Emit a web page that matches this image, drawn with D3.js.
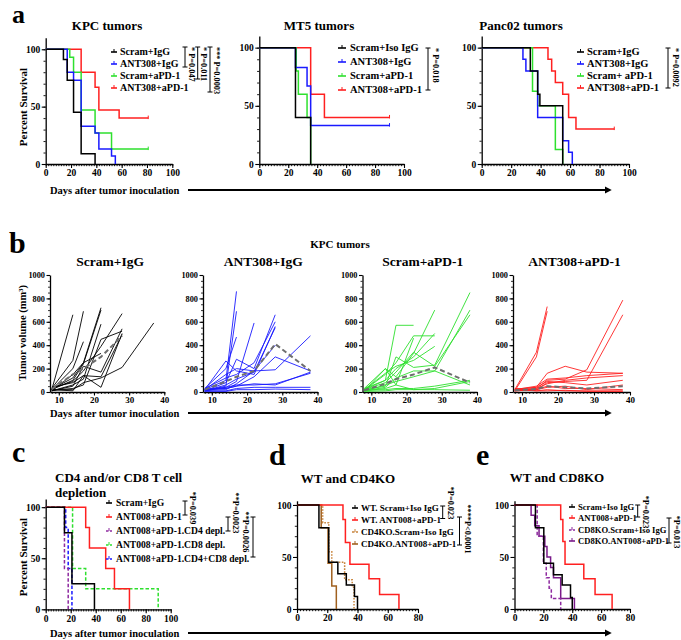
<!DOCTYPE html>
<html><head><meta charset="utf-8">
<script src="https://cdn.jsdelivr.net/npm/d3@7"></script>
<style>body{margin:0;background:#fff}svg{display:block}</style>
</head><body><script>
// ===== DATA =====
const kpcLabels = ["Scram+IgG","ANT308+IgG","Scram+aPD-1","ANT308+aPD-1"];
const kpcScramIgG = [[14,91],[17,73],[22,45],[28,9],[39,0]];
const kpcAntIgG = [[17,80],[22,73],[28,33],[39,27],[42,13],[52,7],[55,0]];
const kpcScramPD1 = [[19,93],[22,80],[28,47],[39,27],[52,13]];
const kpcAntPD1 = [[28,80],[39,67],[42,47],[58,40]];
const kpcEnd = 81;

const mt5Labels = ["Scram+Iso IgG","ANT308+IgG","Scram+aPD-1","ANT308+aPD-1"];
const mt5ScramIgG = [[25,40],[35.5,0]];
const mt5AntIgG = [[25,83],[33,67],[35.5,33]];
const mt5ScramPD1 = [[25.5,80],[27,60],[33,40],[35.5,0]];
const mt5AntPD1 = [[35.5,60],[45,40]];
const mt5End = 90;

const pancLabels = ["Scram+IgG","ANT308+IgG","Scram+ aPD-1","ANT308+aPD-1"];
const pancScramIgG = [[33,80],[38,60],[39.5,50],[55,0]];
const pancAntIgG = [[28,90],[30,80],[38,40],[55,20],[59,10],[61.5,0]];
const pancScramPD1 = [[34.5,62.5],[38,50],[50,12.5],[55,0]];
const pancAntPD1 = [[45,90],[47.5,80],[50,70],[55,60],[59,40],[64,30]];
const pancEnd = 90;

const volDaysScram = [8,14,17,22,28,37];
const volDays = [8,14,17,22,28,38];
const volScramIgG = [
  [20,660,null,null,null,null],[30,270,690,null,null,null],[20,200,430,null,null,null],
  [10,150,250,720,null,null],[20,100,240,700,null,null],[10,60,110,580,null,null],
  [30,90,180,390,670,null],[10,50,220,170,540,null],[40,80,140,130,490,null],
  [20,10,140,40,500,null],[20,20,80,120,210,590],[15,30,60,450,520,null],[25,120,250,330,null,null]];
const meanScramIgG = [25,150,200,300,480,null];
const volAntIgG = [
  [20,100,860,null,null,null],[10,50,690,null,null,null],[30,200,470,null,null,null],
  [20,265,180,150,560,null],[10,80,280,200,660,null],[30,120,150,250,600,null],
  [10,60,110,170,550,null],[20,40,90,590,null,null],[15,20,70,180,190,480],
  [25,30,50,130,300,180],[10,40,60,60,70,160],[20,30,50,70,60,170],
  [5,10,30,40,40,40],[10,5,20,20,25,20],[20,150,200,180,400,null]];
const meanAntIgG = [20,90,130,180,410,180];
const volScramPD1 = [
  [20,100,570,570,null,null],[10,200,130,330,700,null],[15,150,250,480,480,null],
  [30,100,200,300,500,null],[20,50,300,210,230,850],[10,40,120,180,180,700],
  [20,80,170,340,220,660],[10,30,60,20,30,90],[5,10,20,20,20,15],
  [30,200,60,460,null,null],[10,60,90,130,180,60],[20,160,220,270,390,null],[15,20,30,30,50,100]];
const meanScramPD1 = [15,70,110,150,210,80];
const volAntPD1 = [
  [20,340,730,null,null,null],[10,300,690,null,null,null],[15,30,100,110,190,785],
  [10,20,80,90,100,660],[20,40,160,220,170,160],[20,50,110,120,140,160],
  [10,30,70,100,120,140],[25,40,90,80,60,100],[10,20,40,50,20,60],
  [30,10,20,10,10,10],[15,20,50,30,30,20],[20,10,10,15,5,5]];
const meanAntPD1 = [15,25,50,40,30,50];
const volTitles = ["Scram+IgG","ANT308+IgG","Scram+aPD-1","ANT308+aPD-1"];

const cLabels = ["Scram+IgG","ANT008+aPD-1","ANT008+aPD-1.CD4 depl.","ANT008+aPD-1.CD8 depl.","ANT008+aPD-1.CD4+CD8 depl."];
const cScramIgG = [[15,75],[21,25],[39,0]];
const cAntPD1 = [[32,80],[35,60],[48,40],[55,20],[67,0]];
const cCD4 = [[15,40],[18,0]];
const cCD8 = [[21.5,40],[32,20],[90,0]];
const cCD4CD8 = [[16,80],[18,40],[21,0]];

const dLabels = ["WT. Scram+Iso IgG","WT. ANT008+aPD-1","CD4KO.Scram+Iso IgG","CD4KO.ANT008+aPD-1"];
const dWTScram = [[14.5,78],[21,45],[27,34],[32.6,23],[38,12],[40,0]];
const dWTAnt = [[30.4,86],[32,64],[35,43],[47.6,29],[54.6,14],[67.4,0]];
const dKOScram = [[17,83],[21,55],[23,45],[31.5,28],[36.5,21],[37.7,0]];
const dKOAnt = [[16,78],[20.5,44],[23,22],[26,0]];

const eLabels = ["Scram+Iso IgG","ANT008+aPD-1","CD8KO.Scram+Iso IgG","CD8KO.ANT008+aPD-1"];
const eScram = [[14.5,78],[20.3,44],[27,33],[33,23],[38.8,11],[40,0]];
const eAnt = [[32,86],[33.5,65],[35,43],[48,29],[55.8,14],[67.6,0]];
const eKOScram = [[15.7,70],[20,44],[22,30],[24,20],[25.5,10],[32,0]];
const eKOAnt = [[11.5,90],[14,80],[17,70],[21,60],[22.5,50],[25,40],[27,30],[32,10],[41.5,0]];

// ===== DRAWING =====
const F = "'Liberation Serif', 'Times New Roman', Times, 'DejaVu Serif', serif";
const BLK="#000", BLU="#1a1aff", GRN="#2ee02e", RED="#ff2020", PUR="#8e2aa0", PUR2="#7a1a8a", BRN="#a0601f", BRN2="#c8843c";
const svg = d3.select("body").append("svg").attr("width",681).attr("height",640)
  .attr("font-family",F).attr("font-weight","bold");

svg.append("defs").append("marker").attr("id","ah").attr("viewBox","0 0 10 10")
  .attr("refX",2).attr("refY",5).attr("markerWidth",3.6).attr("markerHeight",3.6)
  .attr("orient","auto").append("path").attr("d","M0,0L10,5L0,10z").attr("fill","#000");

function txt(x,y,s,size,anchor,rot){
  const t=svg.append("text").attr("x",x).attr("y",y).attr("font-size",size)
    .style("font-family",F).style("font-weight","bold").attr("fill","#000").text(s);
  if(anchor) t.attr("text-anchor",anchor);
  if(rot!=null) t.attr("transform",`rotate(${rot},${x},${y})`);
  return t;
}
function styleAx(g,fs){
  g.attr("font-size",fs);
  g.attr("font-family",null);
  g.selectAll("text").style("font-family",F).style("font-weight","bold").style("font-size",fs+"px");
  g.select(".domain").attr("stroke","#000").attr("stroke-width",1.3);
  g.selectAll(".tick line").attr("stroke","#000").attr("stroke-width",1.1);
  g.selectAll(".tick text").attr("fill","#000");
}

function kmPanel(cfg){
  const x=d3.scaleLinear().domain([0,cfg.xMax]).range([cfg.left,cfg.right]);
  const y=d3.scaleLinear().domain([0,cfg.yTop]).range([cfg.bottom,cfg.top]);
  const mx=svg.append("g").attr("transform",`translate(0,${cfg.bottom})`)
    .call(d3.axisBottom(x).tickValues(d3.range(0,cfg.xMax+0.01,cfg.xMinor)).tickSize(2.2).tickFormat("").tickSizeOuter(0));
  mx.select(".domain").remove(); mx.selectAll(".tick line").attr("stroke","#000").attr("stroke-width",0.9);
  const my=svg.append("g").attr("transform",`translate(${cfg.left},0)`)
    .call(d3.axisLeft(y).tickValues(d3.range(0,101,10)).tickSize(2.2).tickFormat("").tickSizeOuter(0));
  my.select(".domain").remove(); my.selectAll(".tick line").attr("stroke","#000").attr("stroke-width",0.9);
  const gx=svg.append("g").attr("transform",`translate(0,${cfg.bottom})`)
    .call(d3.axisBottom(x).tickValues(d3.range(0,cfg.xMax+0.01,cfg.xMajor)).tickSize(4).tickPadding(1.5).tickSizeOuter(0));
  styleAx(gx,cfg.tickFs||9.5);
  const gy=svg.append("g").attr("transform",`translate(${cfg.left},0)`)
    .call(d3.axisLeft(y).tickValues([0,50,100]).tickSize(4).tickPadding(1.5).tickSizeOuter(0));
  styleAx(gy,cfg.tickFs||9.5);
  const line=d3.line().x(d=>x(d[0])).y(d=>y(d[1]));
  cfg.series.slice().reverse().forEach(s=>{
    const pts=[[0,100]]; let cur=100;
    s.steps.forEach(([t,v])=>{pts.push([t,cur]);pts.push([t,v]);cur=v;});
    if(cur>0 && s.end!=null) pts.push([s.end,cur]);
    svg.append("path").attr("d",line(pts)).attr("fill","none").attr("stroke",s.color)
      .attr("stroke-width",s.w||1.5).attr("stroke-dasharray",s.dash||null);
    if(cur>0 && s.end!=null){
      svg.append("line").attr("x1",x(s.end)).attr("x2",x(s.end)).attr("y1",y(cur)-2.5).attr("y2",y(cur)+1)
        .attr("stroke",s.color).attr("stroke-width",1);
    }
  });
  const L=cfg.legend;
  cfg.series.forEach((s,i)=>{
    const ry=L.rows[i];
    svg.append("line").attr("x1",L.x).attr("x2",L.x+L.w).attr("y1",ry).attr("y2",ry)
      .attr("stroke",s.color).attr("stroke-width",1.6).attr("stroke-dasharray",s.dash?"2.5,1.5":null);
    svg.append("line").attr("x1",L.x+L.w/2).attr("x2",L.x+L.w/2).attr("y1",ry-3).attr("y2",ry)
      .attr("stroke",s.color).attr("stroke-width",1);
    txt(L.tx,ry+3.4,s.label,L.fs);
  });
  if(cfg.title) txt(cfg.title.x,cfg.title.y,cfg.title.s,13,cfg.title.anchor||"middle");
  return {x,y};
}

function bracket(bx,y1,y2,label,tx,ty,anchor){
  svg.append("line").attr("x1",bx).attr("x2",bx).attr("y1",y1).attr("y2",y2).attr("stroke","#000").attr("stroke-width",1);
  [y1,y2].forEach(yy=>svg.append("line").attr("x1",bx-2.5).attr("x2",bx+2.5).attr("y1",yy).attr("y2",yy).attr("stroke","#000").attr("stroke-width",1));
  txt(tx,ty,label,8.3,anchor||"start",90);
}

function arrowRow(y){
  txt(50,y+3.8,"Days after tumor inoculation",10.5);
  svg.append("line").attr("x1",188).attr("x2",606).attr("y1",y).attr("y2",y)
    .attr("stroke","#000").attr("stroke-width",2).attr("marker-end","url(#ah)");
}

// ---------- Row a ----------
txt(12,23,"a",26);
kmPanel({left:45.7,right:172.3,top:37.8,bottom:164,xMax:100,yTop:110,xMajor:20,xMinor:2,
  series:[{label:kpcLabels[0],color:BLK,steps:kpcScramIgG},{label:kpcLabels[1],color:BLU,steps:kpcAntIgG},
          {label:kpcLabels[2],color:GRN,steps:kpcScramPD1,end:kpcEnd},{label:kpcLabels[3],color:RED,steps:kpcAntPD1,end:kpcEnd}],
  legend:{x:111,w:6,tx:120,rows:[52,64,76,88],fs:10},
  title:{x:107,y:30,s:"KPC tumors"}});
bracket(185,47,67,"* P=0.047",188.5,47);
bracket(197.7,47,79,"* P=0.011",201,47);
bracket(210,47,92,"*** P=0.0003",213.5,47);
txt(27,107,"Percent Survival",11,"middle",-90);

kmPanel({left:259.3,right:404,top:36,bottom:164,xMax:100,yTop:110,xMajor:20,xMinor:2,
  series:[{label:mt5Labels[0],color:BLK,steps:mt5ScramIgG},{label:mt5Labels[1],color:BLU,steps:mt5AntIgG,end:mt5End},
          {label:mt5Labels[2],color:GRN,steps:mt5ScramPD1},{label:mt5Labels[3],color:RED,steps:mt5AntPD1,end:mt5End}],
  legend:{x:338,w:8,tx:350,rows:[48,62,76,90],fs:10.5},
  title:{x:319,y:30,s:"MT5 tumors"}});
bracket(428,48,90,"* P=0.018",433,48);

kmPanel({left:481.7,right:629,top:36,bottom:164,xMax:100,yTop:110,xMajor:20,xMinor:2,
  series:[{label:pancLabels[0],color:BLK,steps:pancScramIgG},{label:pancLabels[1],color:BLU,steps:pancAntIgG},
          {label:pancLabels[2],color:GRN,steps:pancScramPD1},{label:pancLabels[3],color:RED,steps:pancAntPD1,end:pancEnd}],
  legend:{x:577,w:7,tx:587,rows:[52,64,76,88],fs:10.5},
  title:{x:521,y:30,s:"Panc02 tumors"}});
bracket(668,48,88,"* P=0.0092",672.5,48);
arrowRow(190);

// ---------- Row b ----------
txt(9,253,"b",30);
txt(340,248,"KPC tumors",11,"middle");
function volPanel(cfg){
  const x=d3.scaleLinear().domain([7.5,40]).range([cfg.left,cfg.right]);
  const y=d3.scaleLinear().domain([0,1000]).range([392,275]);
  const mx=svg.append("g").attr("transform","translate(0,392)")
    .call(d3.axisBottom(x).tickValues(d3.range(8,40.1,1)).tickSize(2).tickFormat("").tickSizeOuter(0));
  mx.select(".domain").remove(); mx.selectAll(".tick line").attr("stroke","#000").attr("stroke-width",0.8);
  const my=svg.append("g").attr("transform",`translate(${cfg.left},0)`)
    .call(d3.axisLeft(y).tickValues(d3.range(0,1001,50)).tickSize(2).tickFormat("").tickSizeOuter(0));
  my.select(".domain").remove(); my.selectAll(".tick line").attr("stroke","#000").attr("stroke-width",0.8);
  const gx=svg.append("g").attr("transform","translate(0,392)")
    .call(d3.axisBottom(x).tickValues([10,20,30,40]).tickSize(3.5).tickPadding(1.5).tickSizeOuter(0));
  styleAx(gx,9);
  const gy=svg.append("g").attr("transform",`translate(${cfg.left},0)`)
    .call(d3.axisLeft(y).tickValues(d3.range(0,1001,200)).tickFormat(d3.format("d")).tickSize(3.5).tickPadding(1.5).tickSizeOuter(0));
  styleAx(gy,8.3);
  const line=d3.line().defined(d=>d[1]!=null).x(d=>x(d[0])).y(d=>y(d[1]));
  cfg.mice.forEach(m=>{
    svg.append("path").attr("d",line(cfg.days.map((d,i)=>[d,m[i]]))).attr("fill","none")
      .attr("stroke",cfg.color).attr("stroke-width",0.9);
  });
  svg.append("path").attr("d",line(cfg.days.map((d,i)=>[d,cfg.mean[i]]))).attr("fill","none")
    .attr("stroke","#6e6e6e").attr("stroke-width",2).attr("stroke-dasharray","5,3");
  txt((cfg.left+cfg.right)/2+3,266,cfg.title,13.5,"middle");
}
volPanel({left:50,right:164.3,days:volDaysScram,mice:volScramIgG,mean:meanScramIgG,color:BLK,title:volTitles[0]});
volPanel({left:203,right:317.5,days:volDays,mice:volAntIgG,mean:meanAntIgG,color:BLU,title:volTitles[1]});
volPanel({left:362.5,right:477,days:volDays,mice:volScramPD1,mean:meanScramPD1,color:GRN,title:volTitles[2]});
volPanel({left:513,right:630,days:volDays,mice:volAntPD1,mean:meanAntPD1,color:RED,title:volTitles[3]});
txt(26,333,"Tumor volume (mm³)",10.5,"middle",-90);
arrowRow(413);

// ---------- Row c ----------
txt(12,462,"c",30);
txt(55,482,"CD4 and/or CD8 T cell",13);
txt(55,497,"depletion",13);
kmPanel({left:45.7,right:170.7,top:499,bottom:609.3,xMax:100,yTop:108,xMajor:20,xMinor:2,
  series:[{label:cLabels[0],color:BLK,steps:cScramIgG},{label:cLabels[1],color:RED,steps:cAntPD1},
          {label:cLabels[2],color:PUR,steps:cCD4,dash:"3.5,2"},{label:cLabels[3],color:GRN,steps:cCD8,dash:"3.5,2"},
          {label:cLabels[4],color:BLU,steps:cCD4CD8,dash:"3.5,2"}],
  legend:{x:106,w:6,tx:116,rows:[503,517,531,545,559],fs:9.6}});
bracket(185,501,515,"*P=0.039",190,508,"middle");
bracket(228,517,531,"**P=0.0023",233,513,"middle");
bracket(253,517,557,"**P=0.0026",242.5,532,"middle");
txt(27,557,"Percent Survival",11,"middle",-90);

// ---------- Row d ----------
txt(269,465,"d",30);
kmPanel({left:297,right:418,top:500.8,bottom:609,xMax:80,yTop:104,xMajor:20,xMinor:2,
  series:[{label:dLabels[0],color:BLK,steps:dWTScram},{label:dLabels[1],color:RED,steps:dWTAnt},
          {label:dLabels[2],color:BRN2,steps:dKOScram,dash:"1.6,1.4"},{label:dLabels[3],color:BRN,steps:dKOAnt}],
  legend:{x:352,w:6,tx:361,rows:[508,520,532,544],fs:9},
  title:{x:348,y:483,s:"WT and CD4KO"}});
bracket(442.7,506,518.5,"*P=0.023",447.5,503,"middle");
bracket(459.5,517,545,"****P<0.0001",465,529,"middle");

// ---------- Row e ----------
txt(476,465,"e",30);
kmPanel({left:514.5,right:630,top:500.8,bottom:609,xMax:80,yTop:104,xMajor:20,xMinor:2,
  series:[{label:eLabels[0],color:BLK,steps:eScram},{label:eLabels[1],color:RED,steps:eAnt},
          {label:eLabels[2],color:PUR,steps:eKOScram,dash:"3.5,2"},{label:eLabels[3],color:PUR2,steps:eKOAnt}],
  legend:{x:569,w:6,tx:578,rows:[507,518,530,541],fs:8.6},
  title:{x:557,y:482,s:"WT and CD8KO"}});
bracket(637.7,505,517,"*P=0.023",642.5,512,"middle");
bracket(669,518,543,"*P=0.013",674,532,"middle");
arrowRow(633);
</script></body></html>
